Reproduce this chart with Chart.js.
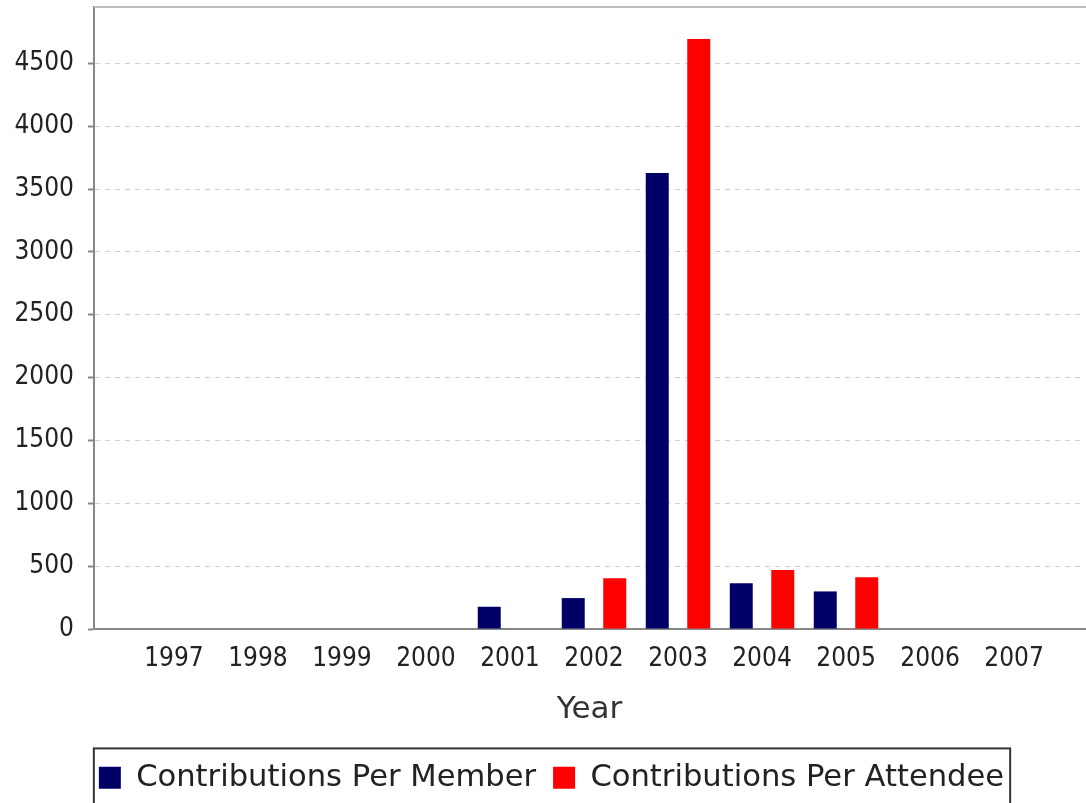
<!DOCTYPE html>
<html>
<head>
<meta charset="utf-8">
<script src="https://cdn.jsdelivr.net/npm/chart.js@4/dist/chart.umd.min.js"></script>
<style>
  html, body { margin: 0; padding: 0; background: #fff; }
  #wrap { width: 1086px; height: 803px; }
</style>
</head>
<body>
<div id="wrap"><canvas id="chart"></canvas></div>
<script>
const years = [1997, 1998, 1999, 2000, 2001, 2002, 2003, 2004, 2005, 2006, 2007];
const perMember = [null, null, null, null, 177, 246, 3627, 363, 299, null, null];
const perAttendee = [null, null, null, null, null, 403, 4694, 469, 411, null, null];
const yTicks = [0, 500, 1000, 1500, 2000, 2500, 3000, 3500, 4000, 4500];

const tickFont = "'DejaVu Sans Condensed', 'DejaVu Sans', sans-serif";
const textFont = "'DejaVu Sans', sans-serif";

// border around the legend and top edge of the plot
const frames = {
  id: "frames",
  afterLayout(chart) {
    // legend sits a little right of centre in the original
    chart.legend.left += 9;
    chart.legend.right += 9;
  },
  afterDraw(chart) {
    const ctx = chart.ctx;
    ctx.save();
    const boxes = chart.legend.legendHitBoxes;
    if (boxes && boxes.length) {
      const left = Math.min(...boxes.map(b => b.left)) - 5;
      const right = Math.max(...boxes.map(b => b.left + b.width)) + 6;
      const top = Math.min(...boxes.map(b => b.top)) - 14;
      ctx.strokeStyle = "#333";
      ctx.lineWidth = 2;
      ctx.strokeRect(left, top, right - left, 80);
    }
    const a = chart.chartArea;
    ctx.strokeStyle = "#bbb";
    ctx.lineWidth = 2;
    ctx.beginPath();
    ctx.moveTo(a.left, a.top);
    ctx.lineTo(a.right + 2, a.top);
    ctx.stroke();
    ctx.restore();
  }
};

new Chart(document.getElementById("chart"), {
  type: "bar",
  data: {
    datasets: [
      {
        label: "Contributions Per Member",
        data: years.map((y, i) => ({ x: y, y: perMember[i] })),
        backgroundColor: "#000066"
      },
      {
        label: "Contributions Per Attendee",
        data: years.map((y, i) => ({ x: y, y: perAttendee[i] })),
        backgroundColor: "#ff0000"
      }
    ]
  },
  plugins: [frames],
  options: {
    responsive: true,
    maintainAspectRatio: false,
    animation: false,
    categoryPercentage: 0.988,
    barPercentage: 0.554,
    layout: { padding: { top: 7, right: 1, left: 0, bottom: 0 } },
    plugins: {
      tooltip: { enabled: false },
      legend: {
        position: "bottom",
        labels: {
          boxWidth: 22,
          boxHeight: 22,
          padding: 17,
          color: "#222",
          font: { family: textFont, size: 30.6 }
        }
      }
    },
    scales: {
      x: {
        type: "linear",
        offset: false,
        min: 1996.048,
        max: 2007.845,
        afterBuildTicks: (axis) => { axis.ticks = years.map(v => ({ value: v })); },
        afterFit: (axis) => { axis.paddingLeft = 0; axis.paddingRight = 0; },
        grid: { display: false, drawTicks: false, offset: false },
        border: { display: true, color: "#888", width: 2 },
        ticks: {
          padding: 15,
          color: "#222",
          font: { family: tickFont, size: 26 },
          callback: (v) => String(v)
        },
        title: {
          display: true,
          text: "Year",
          color: "#333",
          padding: { top: 1, bottom: 17 },
          font: { family: textFont, size: 31 }
        }
      },
      y: {
        min: 0,
        max: 4948,
        afterBuildTicks: (axis) => { axis.ticks = yTicks.map(v => ({ value: v })); },
        afterFit: (axis) => { axis.width = 94; axis.paddingTop = 0; axis.paddingBottom = 0; },
        grid: {
          color: "#d0d0d0",
          tickLength: 6,
          tickColor: "#888",
          tickWidth: 2,
          tickBorderDash: []
        },
        border: { display: true, color: "#888", width: 2, dash: [5, 5] },
        ticks: {
          padding: 14,
          color: "#222",
          font: { family: tickFont, size: 26 },
          callback: (v) => String(v)
        }
      }
    }
  }
});
</script>
</body>
</html>
